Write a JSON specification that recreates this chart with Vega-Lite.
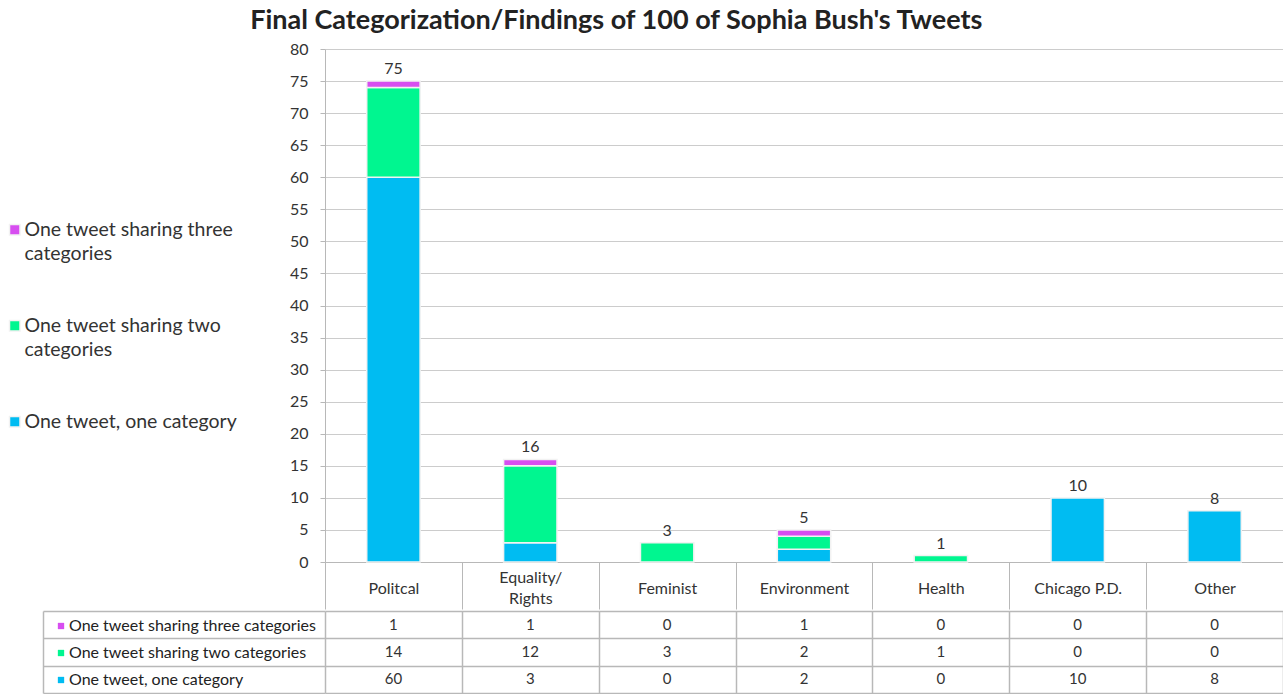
{
  "$schema": "https://vega.github.io/schema/vega-lite/v6.json",
  "padding": {"left": 5, "top": 7, "right": 0, "bottom": 0},
  "config": {
    "font": "Lato",
    "view": {"stroke": null},
    "concat": {"spacing": 0},
    "style": {"guide-label": {"lineHeight": 24}}
  },
  "title": {
    "text": "Final Categorization/Findings of 100 of Sophia Bush's Tweets",
    "fontSize": 27,
    "fontWeight": "bold",
    "color": "#222222",
    "anchor": "middle",
    "offset": 6,
    "dx": -28
  },
  "datasets": {
    "tweets": [
      {"category": "Politcal", "series": "One tweet, one category", "shared": 1, "count": 60},
      {"category": "Politcal", "series": "One tweet sharing two categories", "shared": 2, "count": 14},
      {"category": "Politcal", "series": "One tweet sharing three categories", "shared": 3, "count": 1},
      {"category": "Equality/Rights", "series": "One tweet, one category", "shared": 1, "count": 3},
      {"category": "Equality/Rights", "series": "One tweet sharing two categories", "shared": 2, "count": 12},
      {"category": "Equality/Rights", "series": "One tweet sharing three categories", "shared": 3, "count": 1},
      {"category": "Feminist", "series": "One tweet, one category", "shared": 1, "count": 0},
      {"category": "Feminist", "series": "One tweet sharing two categories", "shared": 2, "count": 3},
      {"category": "Feminist", "series": "One tweet sharing three categories", "shared": 3, "count": 0},
      {"category": "Environment", "series": "One tweet, one category", "shared": 1, "count": 2},
      {"category": "Environment", "series": "One tweet sharing two categories", "shared": 2, "count": 2},
      {"category": "Environment", "series": "One tweet sharing three categories", "shared": 3, "count": 1},
      {"category": "Health", "series": "One tweet, one category", "shared": 1, "count": 0},
      {"category": "Health", "series": "One tweet sharing two categories", "shared": 2, "count": 1},
      {"category": "Health", "series": "One tweet sharing three categories", "shared": 3, "count": 0},
      {"category": "Chicago P.D.", "series": "One tweet, one category", "shared": 1, "count": 10},
      {"category": "Chicago P.D.", "series": "One tweet sharing two categories", "shared": 2, "count": 0},
      {"category": "Chicago P.D.", "series": "One tweet sharing three categories", "shared": 3, "count": 0},
      {"category": "Other", "series": "One tweet, one category", "shared": 1, "count": 8},
      {"category": "Other", "series": "One tweet sharing two categories", "shared": 2, "count": 0},
      {"category": "Other", "series": "One tweet sharing three categories", "shared": 3, "count": 0}
    ]
  },
  "resolve": {"scale": {"color": "independent"}, "legend": {"color": "independent"}},
  "vconcat": [
    {
      "width": 958,
      "height": 513,
      "data": {"name": "tweets"},
      "layer": [
        {
          "transform": [{"filter": "datum.count > 0"}],
          "mark": {"type": "bar", "width": {"band": 0.39}, "stroke": "#f2f2f2", "strokeWidth": 1.5},
          "encoding": {
            "x": {
              "field": "category", "type": "nominal",
              "sort": ["Politcal", "Equality/Rights", "Feminist", "Environment", "Health", "Chicago P.D.", "Other"],
              "scale": {"paddingInner": 0, "paddingOuter": 0},
              "axis": {
                "title": null, "labelAngle": 0, "tickBand": "extent", "tickSize": 47,
                "tickColor": "#b8b8b8", "domainColor": "#b8b8b8", "grid": false,
                "labelPadding": -21,
                "labelBaseline": {"condition": {"test": "datum.label == 'Equality/Rights'", "value": "line-bottom"}, "value": "middle"},
                "labelFontSize": 16,
                "labelColor": "#333333", "labelLineHeight": 21,
                "labelExpr": "datum.label == 'Equality/Rights' ? ['Equality/', 'Rights'] : datum.label"
              }
            },
            "y": {
              "field": "count", "type": "quantitative", "stack": "zero",
              "scale": {"domain": [0, 80]},
              "axis": {
                "title": null, "values": [0,5,10,15,20,25,30,35,40,45,50,55,60,65,70,75,80],
                "labelOverlap": false,
                "grid": true, "gridColor": "#cccccc", "tickColor": "#b8b8b8", "tickSize": 5,
                "domainColor": "#b8b8b8", "labelFontSize": 16, "labelColor": "#333333", "labelPadding": 12
              }
            },
            "order": {"field": "shared", "sort": "ascending"},
            "color": {
              "field": "series", "type": "nominal",
              "scale": {
                "domain": ["One tweet sharing three categories", "One tweet sharing two categories", "One tweet, one category"],
                "range": ["#d74ef0", "#00f690", "#00bcf2"]
              },
              "legend": {
                "title": null, "orient": "none", "legendX": -320, "legendY": 171,
                "symbolType": "square", "symbolSize": 110, "labelFontSize": 19.5,
                "labelColor": "#333333", "labelLimit": 400, "labelBaseline": "middle",
                "rowPadding": 51, "labelOffset": 0,
                "labelExpr": "datum.label == 'One tweet sharing three categories' ? ['One tweet sharing three', 'categories'] : datum.label == 'One tweet sharing two categories' ? ['One tweet sharing two', 'categories'] : datum.label"
              }
            }
          }
        },
        {
          "transform": [{"aggregate": [{"op": "sum", "field": "count", "as": "total"}], "groupby": ["category"]}],
          "mark": {"type": "text", "dy": -12, "fontSize": 16, "color": "#333333"},
          "encoding": {
            "x": {"field": "category", "type": "nominal", "sort": ["Politcal", "Equality/Rights", "Feminist", "Environment", "Health", "Chicago P.D.", "Other"]},
            "y": {
              "field": "total", "type": "quantitative",
              "axis": {
                "title": null, "values": [0,5,10,15,20,25,30,35,40,45,50,55,60,65,70,75,80],
                "labelOverlap": false,
                "grid": true, "gridColor": "#cccccc", "tickColor": "#b8b8b8", "tickSize": 5,
                "domainColor": "#b8b8b8", "labelFontSize": 16, "labelColor": "#333333", "labelPadding": 12
              }
            },
            "text": {"field": "total", "type": "quantitative"}
          }
        }
      ]
    },
    {
      "width": 958,
      "height": 82,
      "data": {"name": "tweets"},
      "encoding": {
        "x": {
          "field": "category", "type": "nominal",
          "sort": ["Politcal", "Equality/Rights", "Feminist", "Environment", "Health", "Chicago P.D.", "Other"],
          "scale": {"paddingInner": 0, "paddingOuter": 0},
          "axis": {"orient": "bottom", "title": null, "labels": false, "ticks": false, "domain": false, "grid": true, "tickBand": "extent", "gridColor": "#b8b8b8", "gridWidth": 1.5}
        },
        "y": {
          "field": "series", "type": "nominal",
          "sort": ["One tweet sharing three categories", "One tweet sharing two categories", "One tweet, one category"],
          "scale": {"paddingInner": 0, "paddingOuter": 0},
          "axis": {
            "title": null, "labels": false, "offset": 282, "tickSize": -282, "tickBand": "extent",
            "grid": true, "gridColor": "#b8b8b8", "gridWidth": 1.5, "tickColor": "#b8b8b8", "tickWidth": 1.5,
            "domainColor": "#b8b8b8", "domainWidth": 1.5
          }
        }
      },
      "layer": [
        {
          "mark": {"type": "rect", "opacity": 0},
          "encoding": {
            "color": {
              "field": "series", "type": "nominal",
              "scale": {
                "domain": ["One tweet sharing three categories", "One tweet sharing two categories", "One tweet, one category"],
                "range": ["#d74ef0", "#00f690", "#00bcf2"]
              },
              "legend": {
                "title": null, "orient": "none", "legendX": -272, "legendY": 7,
                "symbolType": "square", "symbolSize": 40, "symbolOpacity": 1,
                "labelFontSize": 16, "labelColor": "#222222", "labelLimit": 400,
                "rowPadding": 11, "labelOffset": 0
              }
            }
          }
        },
        {
          "mark": {"type": "text", "fontSize": 15, "color": "#333333"},
          "encoding": {"text": {"field": "count", "type": "quantitative"}}
        }
      ]
    }
  ]
}
